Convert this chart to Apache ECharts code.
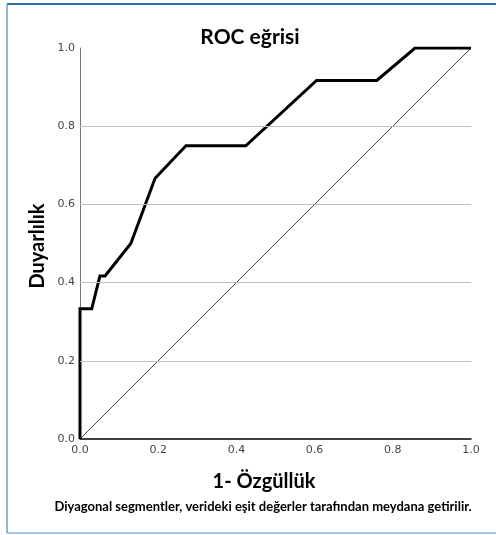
<!DOCTYPE html>
<html>
<head>
<meta charset="utf-8">
<script src="https://cdn.jsdelivr.net/npm/echarts@6/dist/echarts.min.js"></script>
<style>
html,body{margin:0;padding:0;background:#fff;}
#c{width:496px;height:535px;}
</style>
</head>
<body>
<div id="c"></div>
<script>
const titleText = 'ROC eğrisi';
const xName = '1- Özgüllük';
const yName = 'Duyarlılık';
const footnote = 'Diyagonal segmentler, verideki eşit değerler tarafından meydana getirilir.';
const fpr = [0, 0, 0.03, 0.051, 0.064, 0.13, 0.192, 0.271, 0.424, 0.605, 0.759, 0.857, 1];
const tpr = [0, 0.333, 0.333, 0.417, 0.417, 0.5, 0.667, 0.75, 0.75, 0.917, 0.917, 1, 1];
const diagX = [0, 1];
const diagY = [0, 1];
const gridVals = [0.2, 0.4, 0.6, 0.8];

const chart = echarts.init(document.getElementById('c'), null, {renderer: 'canvas'});
const labelStyle = {fontFamily: 'DejaVu Sans', fontSize: 11, color: '#444'};
chart.setOption({
  animation: false,
  backgroundColor: '#fff',
  graphic: [
    {type: 'line', shape: {x1: 7, y1: 4, x2: 496, y2: 4}, style: {stroke: '#2f6fb3', lineWidth: 2}},
    {type: 'line', shape: {x1: 7, y1: 4, x2: 7, y2: 533}, style: {stroke: '#6e9dd0', lineWidth: 1.5}},
    {type: 'line', shape: {x1: 7, y1: 533, x2: 496, y2: 533}, style: {stroke: '#8db2d8', lineWidth: 1.5}},
    {type: 'text', style: {text: titleText, x: 250, y: 37, textAlign: 'center', textVerticalAlign: 'middle', font: 'bold 21px Lato', fill: '#000'}},
    {type: 'text', style: {text: xName, x: 264, y: 482, textAlign: 'center', textVerticalAlign: 'middle', font: 'bold 20px Lato', fill: '#000'}},
    {type: 'text', style: {text: footnote, x: 263, y: 507, textAlign: 'center', textVerticalAlign: 'middle', font: 'bold 13px Lato', fill: '#000'}},
    {type: 'text', rotation: Math.PI / 2, x: 38, y: 246, style: {text: yName, x: 0, y: 0, textAlign: 'center', textVerticalAlign: 'middle', font: 'bold 20px Lato', fill: '#000'}}
  ],
  grid: {left: 80, right: 25, top: 48, bottom: 96},
  xAxis: {
    type: 'value', min: 0, max: 1, interval: 0.2,
    axisLine: {show: true, lineStyle: {color: '#000', width: 1.5}},
    axisTick: {show: false},
    splitLine: {show: false},
    axisLabel: Object.assign({margin: 6, formatter: v => v.toFixed(1)}, labelStyle)
  },
  yAxis: {
    type: 'value', min: 0, max: 1, interval: 0.2,
    axisLine: {show: true, lineStyle: {color: '#777', width: 1}},
    axisTick: {show: false},
    splitLine: {show: false},
    axisLabel: Object.assign({margin: 5, formatter: v => v.toFixed(1)}, labelStyle)
  },
  series: [
    {
      type: 'line', data: gridVals.map(v => [0, v]), symbol: 'none', lineStyle: {width: 0}, silent: true,
      markLine: {
        silent: true, symbol: 'none', label: {show: false},
        lineStyle: {color: '#c0c0c0', width: 1, type: 'solid'},
        data: gridVals.map(v => ({yAxis: v}))
      }
    },
    {
      type: 'line', data: diagX.map((x, i) => [x, diagY[i]]), symbol: 'none',
      lineStyle: {color: '#444', width: 1}
    },
    {
      type: 'line', data: fpr.map((x, i) => [x, tpr[i]]), symbol: 'none',
      lineStyle: {color: '#000', width: 3, join: 'miter'}
    }
  ]
});
</script>
</body>
</html>
